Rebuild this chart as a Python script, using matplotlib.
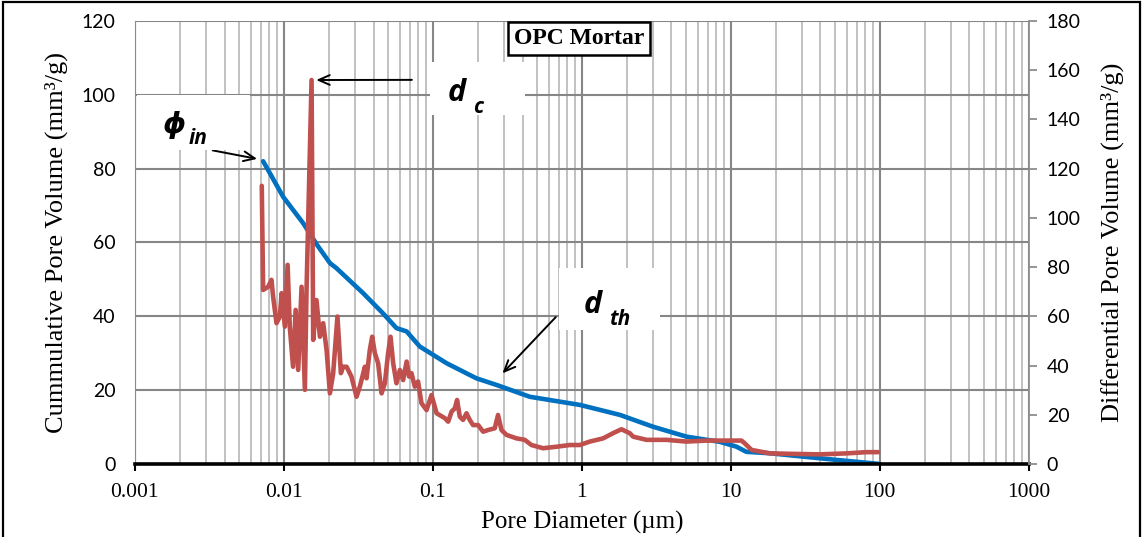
import matplotlib
matplotlib.use("Agg")
import matplotlib.pyplot as plt
from matplotlib.patches import Rectangle
from matplotlib.ticker import LogLocator, NullFormatter, FixedLocator, FixedFormatter

# Cumulative pore volume (left axis, mm3/g)
cum_diam = [0.00726, 0.00988, 0.01349, 0.0166, 0.0204, 0.0226, 0.034, 0.0463, 0.057,
            0.0667, 0.0818, 0.1236, 0.196, 0.268, 0.448, 0.97, 1.8, 3.0, 5.04, 8.44,
            10.9, 12.7, 18.3, 30.6, 51.2, 100]
cum_vol = [82, 72.4, 65.2, 59.5, 54.4, 53.0, 46.3, 40.8, 36.8,
           35.9, 31.8, 27.3, 23.2, 21.4, 18.2, 16.0, 13.3, 10.1, 7.4, 6.0,
           4.7, 3.3, 2.9, 2.0, 1.1, 0]

# Differential pore volume (right axis, mm3/g)
diff_diam = [0.00711, 0.00726, 0.00785, 0.00826, 0.00847, 0.00893, 0.0094, 0.00966, 0.01016,
             0.0106, 0.01096, 0.01153, 0.0120, 0.01248, 0.01315, 0.01384, 0.0142, 0.01535,
             0.01574, 0.01656, 0.01746, 0.01837, 0.01936, 0.02038, 0.02144, 0.0229, 0.02415,
             0.025, 0.02636, 0.02844, 0.03076, 0.03236, 0.035, 0.0359, 0.03776, 0.03917,
             0.04083, 0.04295, 0.04529, 0.04766, 0.0501, 0.052, 0.0542, 0.057, 0.0601,
             0.0632, 0.0667, 0.0693, 0.0719, 0.0757, 0.0796, 0.0839, 0.0908, 0.098, 0.106,
             0.1205, 0.1268, 0.1337, 0.1406, 0.1455, 0.1517, 0.1596, 0.1683, 0.177, 0.1862,
             0.2014, 0.2178, 0.235, 0.2606, 0.274, 0.289, 0.3126, 0.3648, 0.414, 0.459,
             0.5495, 0.676, 0.830, 0.970, 1.132, 1.39, 1.62, 1.846, 2.10, 2.21, 2.72, 3.70,
             5.04, 6.87, 9.35, 11.8, 12.4, 13.8, 18.3, 26.2, 39.5, 59.8, 81.5, 97.5]
diff_vol = [113, 70.7, 72, 74.8, 68, 57.2, 59.9, 69.4, 55.8,
            80.9, 55.8, 39.5, 62.6, 38.2, 72, 30.1, 70.7, 156,
            50.4, 66.6, 51.7, 57.2, 46.3, 28.7, 36.9, 59.9, 36.9,
            39.5, 39.5, 35.5, 27.3, 31.4, 39.5, 34.8, 46.3, 51.7,
            45, 40.9, 28.7, 32.8, 45, 51.7, 40.9, 32.8, 38.2,
            34.1, 41.6, 35.5, 36.9, 31.4, 33.5, 24.7, 21.9, 28, 20.6,
            18.6, 17.2, 21.3, 22.6, 26, 19.2, 17.9, 20.6, 17.9, 15.8,
            15.8, 13.1, 13.8, 14.5, 19.9, 13.8, 11.8, 10.4, 9.8, 7.7,
            6.4, 7.0, 7.7, 7.7, 9.1, 10.4, 12.5, 14.1, 12.5, 11.1, 9.8, 9.8,
            9.1, 9.5, 9.5, 9.5, 8.4, 5.7, 4.3, 4.1, 3.9, 4.3, 4.8, 4.8]

x_ticks = [0.001, 0.01, 0.1, 1, 10, 100, 1000]
x_labels = ["0.001", "0.01", "0.1", "1", "10", "100", "1000"]

serif = "Liberation Serif"
sans = "Lato"

fig = plt.figure(figsize=(11.43, 5.37), dpi=100)
ax = fig.add_axes([0.118, 0.136, 0.782, 0.825])
ax2 = ax.twinx()

ax.set_xscale("log")
ax.set_xlim(0.001, 1000)
ax.set_ylim(0, 120)
ax2.set_ylim(0, 180)

# grid
ax.xaxis.set_major_locator(FixedLocator(x_ticks))
ax.xaxis.set_major_formatter(FixedFormatter(x_labels))
ax.xaxis.set_minor_locator(LogLocator(base=10, subs=range(2, 10), numticks=20))
ax.xaxis.set_minor_formatter(NullFormatter())
ax.set_yticks(range(0, 121, 20))
ax2.set_yticks(range(0, 181, 20))
ax.grid(which="major", axis="x", color="#868686", lw=1.5)
ax.grid(which="minor", axis="x", color="#bcbcbc", lw=1.3)
ax.grid(which="major", axis="y", color="#868686", lw=1.5)
ax.set_axisbelow(True)

# lines
ax.plot(cum_diam, cum_vol, color="#0070C0", lw=3.3, solid_capstyle="round", zorder=3)
ax2.plot(diff_diam, diff_vol, color="#C0504D", lw=3.3, solid_capstyle="round",
         solid_joinstyle="round", zorder=3)

# spines and ticks
ax.spines["top"].set_visible(False)
ax2.spines["top"].set_visible(False)
ax.spines["left"].set_color("#8c8c8c")
ax2.spines["left"].set_visible(False)
ax2.spines["right"].set_color("#8c8c8c")
ax2.spines["right"].set_linewidth(1.3)
ax.spines["right"].set_visible(False)
ax2.spines["bottom"].set_visible(False)
ax.spines["bottom"].set_color("black")
ax.spines["bottom"].set_linewidth(2.6)
ax.spines["bottom"].set_zorder(4)

ax.tick_params(axis="x", which="major", length=5, width=1.5, color="black", pad=9)
ax.tick_params(axis="x", which="minor", length=0)
ax.tick_params(axis="y", length=0, pad=14)
ax2.tick_params(axis="y", length=6, width=1.3, color="#8c8c8c", direction="out", pad=7)

for lab in ax.get_xticklabels():
    lab.set_fontfamily(serif)
    lab.set_fontsize(15.5)
for lab in ax.get_yticklabels() + ax2.get_yticklabels():
    lab.set_fontfamily(sans)
    lab.set_fontsize(14)

ax.set_xlabel("Pore Diameter (\u00b5m)", fontfamily=serif, fontsize=18, labelpad=6)
ax.set_ylabel("Cummulative Pore Volume (mm\u00b3/g)", fontfamily=serif, fontsize=19, labelpad=10)
ax2.set_ylabel("Differential Pore Volume (mm\u00b3/g)", fontfamily=serif, fontsize=19, labelpad=14)

# title box
ax2.text(0.497, 0.961, "OPC Mortar", transform=ax2.transAxes, ha="center", va="center",
         fontfamily=serif, fontweight="bold", fontsize=17, zorder=6,
         bbox=dict(boxstyle="square,pad=0.25", fc="white", ec="black", lw=1.8))

# white label boxes
for (bx, by, bw, bh) in [(0.330, 0.788, 0.106, 0.119), (0.002, 0.709, 0.127, 0.124),
                         (0.475, 0.302, 0.112, 0.140)]:
    ax2.add_patch(Rectangle((bx, by), bw, bh, transform=ax2.transAxes, fc="white",
                            ec="none", zorder=2, clip_on=False))

lab_font = dict(fontfamily=["Open Sans", "DejaVu Sans"], fontweight="bold", fontstyle="italic",
                color="black", zorder=6)
# d_c
ax2.text(0.350, 0.838, "d", transform=ax2.transAxes, fontsize=22, ha="left", va="center", **lab_font)
ax2.text(0.378, 0.805, "c", transform=ax2.transAxes, fontsize=15, ha="left", va="center", **lab_font)
ax2.annotate("", xy=(0.0158, 156), xytext=(0.313, 0.867), textcoords="axes fraction",
             arrowprops=dict(arrowstyle="->,head_length=0.8,head_width=0.35", color="black", lw=1.4),
             zorder=6)
# phi_in
ax2.text(0.032, 0.765, "\u03d5", transform=ax2.transAxes, fontsize=21, ha="left", va="center", **lab_font)
ax2.text(0.060, 0.735, "in", transform=ax2.transAxes, fontsize=15, ha="left", va="center", **lab_font)
ax.annotate("", xy=(0.0069, 82.5), xytext=(0.084, 0.709), textcoords="axes fraction",
            arrowprops=dict(arrowstyle="->,head_length=0.8,head_width=0.35", color="black", lw=1.4),
            zorder=6)
# d_th
ax2.text(0.502, 0.358, "d", transform=ax2.transAxes, fontsize=22, ha="left", va="center", **lab_font)
ax2.text(0.530, 0.325, "th", transform=ax2.transAxes, fontsize=15, ha="left", va="center", **lab_font)
ax.annotate("", xy=(0.285, 24), xytext=(0.473, 0.336), textcoords="axes fraction",
            arrowprops=dict(arrowstyle="->,head_length=0.8,head_width=0.35", color="black", lw=1.4),
            zorder=6)

# outer frame
fig.patches.append(Rectangle((0.003, -0.01), 0.994, 1.006, transform=fig.transFigure,
                             fill=False, ec="black", lw=1.6))

fig.savefig("out.png", dpi=100)
